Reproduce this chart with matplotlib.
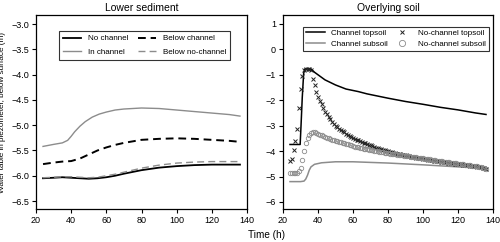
import matplotlib
matplotlib.use("Agg")
import matplotlib.pyplot as plt

plt.rcParams['font.family'] = ['Liberation Sans', 'DejaVu Sans']

# ---- Lower sediment data ----
t_in = [24, 30, 35, 38, 40, 42, 45, 48, 52, 56, 60, 65, 70, 80, 90, 100, 110, 120, 130, 136]
in_channel = [-5.42, -5.38, -5.35, -5.3, -5.22, -5.13, -5.02, -4.93, -4.84, -4.78, -4.74, -4.7, -4.68, -4.66, -4.67, -4.7, -4.73, -4.76, -4.79, -4.82]

t_bc = [24, 30, 35, 40, 45, 50, 55, 60, 65, 70, 80, 90, 100, 110, 120, 130, 136]
below_channel = [-5.77, -5.74, -5.72, -5.71, -5.66, -5.58, -5.5, -5.44, -5.39, -5.35, -5.29, -5.27, -5.26, -5.27, -5.29, -5.31, -5.33]

t_nc = [24, 30, 35, 40, 45, 50, 55, 60, 65, 70, 80, 90, 100, 110, 120, 130, 136]
no_channel = [-6.05, -6.04, -6.03, -6.04, -6.05, -6.06, -6.05, -6.03, -6.0, -5.96, -5.89, -5.84, -5.81, -5.79, -5.78, -5.78, -5.78]

t_bnc = [24, 30, 35, 40, 45, 50, 55, 60, 65, 70, 80, 90, 100, 110, 120, 130, 136]
below_no_channel = [-6.04, -6.03, -6.02, -6.02, -6.03, -6.04, -6.03, -6.0, -5.97, -5.93, -5.85, -5.79, -5.75, -5.73, -5.72, -5.72, -5.72]

# ---- Overlying soil data ----
t_ct = [24, 29.8, 30.3, 31.0, 31.8, 32.5, 36, 38, 40, 44, 50, 56, 63, 68, 80, 90, 100, 110, 120, 130, 136]
channel_topsoil = [-3.74, -3.74, -3.0, -1.9, -0.95, -0.77, -0.77, -0.9, -1.0, -1.2, -1.4, -1.56, -1.66, -1.75, -1.92, -2.05, -2.16, -2.28, -2.38, -2.5, -2.56]

t_cs = [24, 30, 32, 33, 34, 35, 36, 38, 42, 50, 60, 80, 100, 120, 136]
channel_subsoil = [-5.2, -5.2, -5.18, -5.1, -4.95, -4.75, -4.62, -4.52, -4.46, -4.42, -4.42, -4.47, -4.54, -4.62, -4.68]

t_hourly = list(range(24, 137))
nochannel_topsoil = [
    -4.37, -4.33, -3.97, -3.6, -3.15, -2.3, -1.56, -1.06, -0.8, -0.77,
    -0.77, -0.77, -0.8, -1.15, -1.42, -1.67, -1.87, -2.02, -2.16, -2.3,
    -2.45, -2.55, -2.65, -2.75, -2.86, -2.93, -3.0, -3.06, -3.12, -3.17,
    -3.22, -3.26, -3.31, -3.35, -3.39, -3.43, -3.47, -3.51, -3.55, -3.58,
    -3.61, -3.64, -3.67, -3.7, -3.73, -3.76, -3.78, -3.81, -3.83, -3.86,
    -3.88, -3.9, -3.92, -3.94, -3.96, -3.98, -4.0, -4.02, -4.04, -4.06,
    -4.08, -4.1, -4.11, -4.13, -4.14, -4.16, -4.17, -4.19, -4.2, -4.22,
    -4.23, -4.24, -4.26, -4.27, -4.28, -4.29, -4.31, -4.32, -4.33, -4.34,
    -4.35, -4.36, -4.37, -4.38, -4.39, -4.4, -4.41, -4.42, -4.43, -4.44,
    -4.45, -4.46, -4.47, -4.48, -4.49, -4.5, -4.5, -4.51, -4.52, -4.53,
    -4.54, -4.55, -4.56, -4.57, -4.58, -4.59, -4.6, -4.61, -4.62, -4.63,
    -4.65, -4.67, -4.69,
]
nochannel_subsoil = [
    -4.87, -4.88, -4.88, -4.88, -4.86, -4.8, -4.65, -4.35, -4.0, -3.7,
    -3.5, -3.36, -3.28, -3.25, -3.26, -3.29, -3.32, -3.35, -3.38, -3.41,
    -3.44, -3.47, -3.5, -3.52, -3.55, -3.57, -3.6, -3.62, -3.64, -3.66,
    -3.68, -3.7, -3.72, -3.74, -3.76, -3.78, -3.8, -3.82, -3.83, -3.85,
    -3.87, -3.88, -3.9, -3.91, -3.93, -3.94, -3.96, -3.97, -3.98, -4.0,
    -4.01, -4.02, -4.04, -4.05, -4.06, -4.07, -4.08, -4.1, -4.11, -4.12,
    -4.13, -4.14, -4.15, -4.16, -4.17, -4.18, -4.19, -4.2, -4.21, -4.22,
    -4.23, -4.24, -4.25, -4.26, -4.27, -4.28, -4.29, -4.3, -4.31, -4.32,
    -4.33, -4.34, -4.35, -4.36, -4.37, -4.38, -4.39, -4.4, -4.41, -4.42,
    -4.43, -4.44, -4.45, -4.46, -4.47, -4.48, -4.49, -4.5, -4.51, -4.52,
    -4.53, -4.54, -4.55, -4.56, -4.57, -4.58, -4.59, -4.6, -4.62, -4.64,
    -4.66, -4.68, -4.7,
]

left_yticks = [-3.0, -3.5, -4.0, -4.5, -5.0, -5.5, -6.0, -6.5]
right_yticks = [1, 0, -1, -2, -3, -4, -5, -6]
xticks = [20, 40, 60, 80, 100, 120, 140]

FS = 6.5
LFS = 5.8
fig = plt.figure(figsize=(5.0, 2.42), dpi=100)
ax1 = fig.add_axes([0.072, 0.136, 0.422, 0.802])
ax2 = fig.add_axes([0.566, 0.136, 0.420, 0.802])

GRAY = '#8c8c8c'
ax1.plot(t_nc, no_channel, color='black', lw=1.3, label='No channel')
ax1.plot(t_in, in_channel, color=GRAY, lw=1.0, label='In channel')
ax1.plot(t_bc, below_channel, color='black', lw=1.4, ls=(0, (4, 2.5)), label='Below channel')
ax1.plot(t_bnc, below_no_channel, color=GRAY, lw=1.0, ls=(0, (5, 3)), label='Below no-channel')
ax1.set_xlim(20, 140)
ax1.set_ylim(-6.66, -2.82)
ax1.set_yticks(left_yticks)
ax1.set_yticklabels([f"{v:.1f}".replace('-', '\u2212') for v in left_yticks])
ax1.set_xticks(xticks)
ax1.set_title('Lower sediment', fontsize=7.5, pad=3)
ax1.set_ylabel('Water table in piezometer, below surface (m)', fontsize=5.9)
ax1.yaxis.set_label_coords(-0.142, 0.5)
leg1 = ax1.legend(ncol=2, loc='upper left', bbox_to_anchor=(0.09, 0.94), fontsize=LFS,
                  frameon=True, fancybox=False, edgecolor='black', handlelength=2.2,
                  columnspacing=1.2, borderpad=0.5, labelspacing=0.75, handletextpad=0.9)
leg1.get_frame().set_linewidth(0.8)

ax2.plot(t_ct, channel_topsoil, color='black', lw=1.1, label='Channel topsoil')
ax2.plot(t_cs, channel_subsoil, color=GRAY, lw=1.1, label='Channel subsoil')
ax2.plot(t_hourly, nochannel_topsoil, ls='none', marker='x', ms=2.2, mew=0.7,
         color='#222222', label='No-channel topsoil')
ax2.plot(t_hourly, nochannel_subsoil, ls='none', marker='o', ms=3.2, mew=0.6,
         mfc='none', mec=GRAY, label='No-channel subsoil')
ax2.set_xlim(20, 140)
ax2.set_ylim(-6.28, 1.35)
ax2.set_yticks(right_yticks)
ax2.set_xticks(xticks)
ax2.set_title('Overlying soil', fontsize=7.5, pad=3)
leg2 = ax2.legend(ncol=2, loc='upper left', bbox_to_anchor=(0.075, 0.96), fontsize=LFS,
                  frameon=True, fancybox=False, edgecolor='black', handlelength=2.4,
                  columnspacing=0.5, borderpad=0.35, labelspacing=0.35, handletextpad=0.8,
                  markerscale=1.4)
leg2.get_frame().set_linewidth(0.8)

for ax in (ax1, ax2):
    ax.tick_params(labelsize=FS, length=3, width=0.8, pad=2)
    for s in ax.spines.values():
        s.set_linewidth(0.9)

fig.text(0.532, 0.028, 'Time (h)', ha='center', va='center', fontsize=7.2)
fig.savefig('out.png', dpi=100)
